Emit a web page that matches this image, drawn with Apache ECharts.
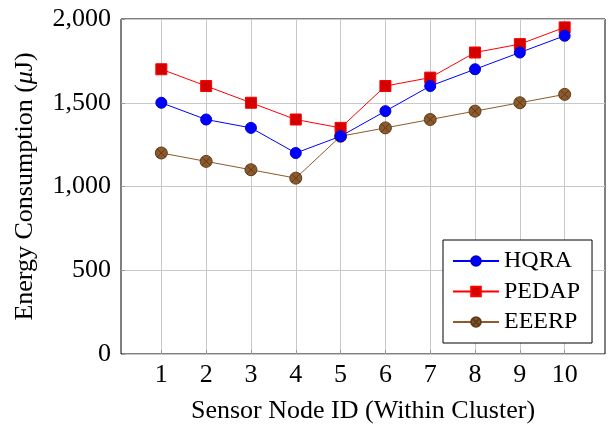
<!DOCTYPE html>
<html>
<head>
<meta charset="utf-8">
<script src="https://cdn.jsdelivr.net/npm/echarts@6/dist/echarts.min.js"></script>
<style>html,body{margin:0;padding:0;background:#fff}#c{width:608px;height:426px}</style>
</head>
<body>
<div id="c"></div>
<script>
const nodeIds = [1, 2, 3, 4, 5, 6, 7, 8, 9, 10];
const hqra = [1500, 1400, 1350, 1200, 1300, 1450, 1600, 1700, 1800, 1900];
const pedap = [1700, 1600, 1500, 1400, 1350, 1600, 1650, 1800, 1850, 1950];
const eeerp = [1200, 1150, 1100, 1050, 1300, 1350, 1400, 1450, 1500, 1550];
const yTicks = [0, 500, 1000, 1500, 2000];

const FONT = '"Liberation Serif", "Times New Roman", serif';
const AX = 26;
const otimes = 'path://M0,10 A10,10 0 1,1 20,10 A10,10 0 1,1 0,10 Z M2.93,2.93 L17.07,17.07 M17.07,2.93 L2.93,17.07';

function pairs(arr) { return nodeIds.map((x, i) => [x, arr[i]]); }

const chart = echarts.init(document.getElementById('c'), null, {renderer: 'canvas'});
chart.setOption({
  animation: false,
  backgroundColor: '#fff',
  grid: {left: 121, right: 3, top: 19, bottom: 72, show: true, borderColor: '#000', borderWidth: 1,
    backgroundColor: 'transparent', containLabel: false, outerBoundsMode: 'none'},
  xAxis: {
    type: 'value', min: 0.1, max: 10.9,
    name: 'Sensor Node ID (Within Cluster)', nameLocation: 'middle', nameGap: 44,
    nameTextStyle: {fontFamily: FONT, fontSize: AX, color: '#000'},
    axisLine: {show: false},
    axisTick: {show: true, inside: true, length: 4, lineStyle: {color: '#999'}, customValues: nodeIds},
    axisLabel: {fontFamily: FONT, fontSize: AX, color: '#000', margin: 8, customValues: nodeIds},
    splitLine: {show: true, lineStyle: {color: '#c8c8c8', width: 1}}
  },
  yAxis: {
    type: 'value', min: 0, max: 2000, interval: 500,
    name: 'Energy Consumption ({i|\u03bc}J)', nameLocation: 'middle', nameGap: 83,
    nameTextStyle: {fontFamily: FONT, fontSize: AX, color: '#000',
      rich: {i: {fontFamily: FONT, fontSize: AX, fontStyle: 'italic', color: '#000'}}},
    axisLine: {show: false},
    axisTick: {show: true, inside: true, length: 4, lineStyle: {color: '#999'}},
    axisLabel: {fontFamily: FONT, fontSize: AX, color: '#000', margin: 10,
      customValues: yTicks,
      formatter: v => v.toLocaleString('en-US')},
    splitLine: {show: true, lineStyle: {color: '#c8c8c8', width: 1}}
  },
  legend: {
    orient: 'vertical', left: 443, top: 240,
    padding: [9, 12, 9, 9], itemGap: 6.5, itemWidth: 46, itemHeight: 12,
    borderColor: '#000', borderWidth: 1, backgroundColor: '#fff',
    textStyle: {fontFamily: FONT, fontSize: 24, color: '#000', lineHeight: 24},
    data: ['HQRA', 'PEDAP', 'EEERP']
  },
  series: [
    {name: 'HQRA', type: 'line', data: pairs(hqra), symbol: 'circle', symbolSize: 11,
      lineStyle: {color: '#0000ff', width: 1}, itemStyle: {color: '#0000ff', borderColor: '#0000cc', borderWidth: 1}, z: 3},
    {name: 'PEDAP', type: 'line', data: pairs(pedap), symbol: 'rect', symbolSize: 11,
      lineStyle: {color: '#ff0000', width: 1}, itemStyle: {color: '#d40000', borderColor: '#ff0000', borderWidth: 1}, z: 2},
    {name: 'EEERP', type: 'line', data: pairs(eeerp), symbol: otimes, symbolSize: 12,
      lineStyle: {color: '#8c5a2b', width: 1}, itemStyle: {color: '#8c5a2b', borderColor: '#5e3b1a', borderWidth: 1}, z: 1}
  ]
});
</script>
</body>
</html>
